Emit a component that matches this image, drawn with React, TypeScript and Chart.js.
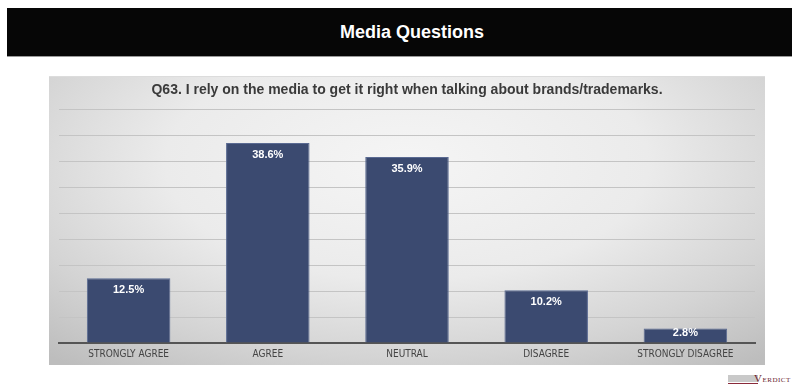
import React, { useEffect, useRef } from "react";
import { Chart, registerables } from "chart.js";

Chart.register(...registerables);

const headerTitle = "Media Questions";
const chartTitle = "Q63. I rely on the media to get it right when talking about brands/trademarks.";
const categories = ["STRONGLY AGREE", "AGREE", "NEUTRAL", "DISAGREE", "STRONGLY DISAGREE"];
const values = [12.5, 38.6, 35.9, 10.2, 2.8];
const yMin = 0;
const yMax = 45;
const yStep = 5;

const barLabels = {
  id: "barLabels",
  afterDatasetsDraw(chart: any) {
    const ctx = chart.ctx;
    const meta = chart.getDatasetMeta(0);
    const base = chart.scales.y.getPixelForValue(0);
    ctx.save();
    ctx.fillStyle = "#ffffff";
    ctx.font = 'bold 11px "Liberation Sans", Arial, sans-serif';
    ctx.textAlign = "center";
    ctx.textBaseline = "middle";
    meta.data.forEach((el: any, i: number) => {
      const y = Math.min(el.y + 12, base - 10);
      ctx.fillText(values[i].toFixed(1) + "%", el.x, y);
    });
    ctx.restore();
  },
};

export default function App() {
  const canvasRef = useRef<HTMLCanvasElement | null>(null);

  useEffect(() => {
    if (!canvasRef.current) return;
    const chart = new Chart(canvasRef.current, {
      type: "bar",
      data: {
        labels: categories,
        datasets: [
          {
            data: values,
            backgroundColor: "#3b4a70",
            borderColor: "#5a6a92",
            borderWidth: 1,
            barPercentage: 0.6,
            categoryPercentage: 1,
          },
        ],
      },
      options: {
        responsive: false,
        animation: false,
        layout: { padding: { left: 10, right: 10, top: 0, bottom: 0 } },
        plugins: {
          legend: { display: false },
          tooltip: { enabled: false },
          title: {
            display: true,
            text: chartTitle,
            color: "#3a3a3a",
            font: { family: '"Liberation Sans", Arial, sans-serif', size: 14, weight: "bold" },
            padding: { top: 5, bottom: 11 },
          },
        },
        scales: {
          x: {
            grid: { display: false, drawTicks: false },
            border: { display: true, color: "#555555", width: 2 },
            ticks: {
              color: "#444444",
              padding: 5,
              maxRotation: 0,
              autoSkip: false,
              font: { family: '"Liberation Sans Narrow", "DejaVu Sans Condensed", Arial, sans-serif', size: 10 },
            },
          },
          y: {
            min: yMin,
            max: yMax,
            ticks: { display: false, stepSize: yStep },
            border: { display: false },
            grid: {
              drawTicks: false,
              color: (c: any) => (c.tick && c.tick.value === 0 ? "rgba(0,0,0,0)" : "#c4c4c4"),
              lineWidth: 1,
            },
          },
        },
      },
      plugins: [barLabels],
    });
    return () => chart.destroy();
  }, []);

  return (
    <div style={{ position: "fixed", left: 0, top: 0, width: 792, height: 389, background: "#ffffff", overflow: "hidden" }}>
      <div
        style={{
          position: "absolute",
          left: 7,
          top: 8,
          width: 820,
          height: 48,
          background: "#060606",
          borderBottom: "1px solid #9a9a9a",
        }}
      >
        <div
          style={{
            position: "absolute",
            left: 0,
            width: 810,
            top: 0,
            height: 48,
            lineHeight: "48px",
            textAlign: "center",
            color: "#ffffff",
            fontFamily: '"Liberation Sans", Arial, sans-serif',
            fontWeight: "bold",
            fontSize: 18,
          }}
        >
          {headerTitle}
        </div>
      </div>
      <div
        style={{
          position: "absolute",
          left: 49,
          top: 76,
          width: 716,
          height: 288,
          background:
            "radial-gradient(ellipse 75% 90% at 50% 30%, #f5f5f5 0%, #ebebeb 45%, #d4d4d4 75%, #bdbdbd 100%)",
          borderTop: "1px solid #dcdcdc",
        }}
      >
        <canvas ref={canvasRef} width={716} height={288} style={{ display: "block" }} />
      </div>
      <div style={{ position: "absolute", left: 728, top: 374, width: 55, height: 12 }}>
        <div style={{ position: "absolute", left: 0, top: 1, width: 30, height: 7, background: "#c9c9c9" }} />
        <div style={{ position: "absolute", left: 0, top: 9, width: 30, height: 1, background: "#8a2a3a" }} />
        <div
          style={{
            position: "absolute",
            left: 26,
            top: -2,
            fontFamily: '"Liberation Serif", "Times New Roman", serif',
            fontSize: 7,
            color: "#6b1e2e",
            whiteSpace: "nowrap",
            letterSpacing: 0.5,
          }}
        >
          <span style={{ fontSize: 11 }}>V</span>ERDICT
        </div>
      </div>
    </div>
  );
}
